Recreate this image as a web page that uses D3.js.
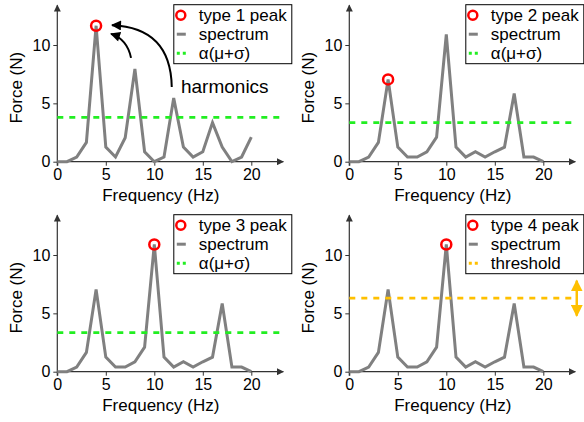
<!DOCTYPE html>
<html>
<head>
<meta charset="utf-8">
<script src="https://cdn.jsdelivr.net/npm/d3@7"></script>
<style>
  body { margin: 0; background: #fff; }
  text { font-family: "Liberation Sans", Arial, sans-serif; fill: #000; }
</style>
</head>
<body>
<div id="chart"></div>
<script>
// Chart data
const freq = [0, 1, 2, 3, 4, 5, 6, 7, 8, 9, 10, 11, 12, 13, 14, 15, 16, 17, 18, 19, 20];
const spectrumHarmonic = [0, 0, 0.4, 1.65, 11.65, 1.25, 0.4, 2.05, 7.95, 0.85, 0, 0.4, 5.45, 1.25, 0.4, 0.85, 3.35, 1.25, 0, 0.4, 2.1];
const spectrumMulti = [0, 0, 0.4, 1.65, 7.05, 1.25, 0.4, 0.4, 0.85, 2.1, 10.9, 1.25, 0.4, 0.85, 0.4, 0.85, 1.25, 5.85, 0.4, 0.4, 0];
const peakLabels = ["type 1 peak", "type 2 peak", "type 3 peak", "type 4 peak"];
const peakFreqs = [4, 4, 10, 10];
const thresholds = [3.8, 3.35, 3.35, 6.3];
const thresholdLabels = ["α(μ+σ)", "α(μ+σ)", "α(μ+σ)", "threshold"];
const xTicks = [0, 5, 10, 15, 20];
const yTicks = [0, 5, 10];

const width = 584, height = 422;
const panelLeft = [57.3, 349.3];
const panelBottom = [161.7, 371.7];
const green = "#22ee22", gold = "#ffc000", lineGray = "#808080", axisColor = "#333";

const svg = d3.select("#chart").append("svg")
    .attr("width", width)
    .attr("height", height);

// Arrowhead markers
const defs = svg.append("defs");
const addMarker = (id, color, w, h) => {
    defs.append("marker")
        .attr("id", id)
        .attr("viewBox", "0 -5 10 10")
        .attr("refX", 9)
        .attr("refY", 0)
        .attr("markerUnits", "userSpaceOnUse")
        .attr("markerWidth", w)
        .attr("markerHeight", h)
        .attr("orient", "auto-start-reverse")
        .append("path")
        .attr("d", "M0,-5L10,0L0,5Z")
        .attr("fill", color);
};
addMarker("axisArrow", axisColor, 8, 7);
addMarker("blackArrow", "#000", 11, 10);
addMarker("goldArrow", gold, 12, 12);

const x = d3.scaleLinear().domain([0, 20]).range([0, 194]);
const y = d3.scaleLinear().domain([0, 10]).range([0, -116.7]);
const xEnd = 23.3, yEnd = 13.4;

peakLabels.forEach((label, i) => {
    const col = i % 2, row = Math.floor(i / 2);
    const values = i === 0 ? spectrumHarmonic : spectrumMulti;
    const g = svg.append("g")
        .attr("transform", `translate(${panelLeft[col]},${panelBottom[row]})`);

    /* Axes */
    const xAxis = g.append("g")
        .call(d3.axisBottom(x).tickValues(xTicks).tickSize(4).tickPadding(3));
    const yAxis = g.append("g")
        .call(d3.axisLeft(y).tickValues(yTicks).tickSize(4).tickPadding(3));
    [xAxis, yAxis].forEach(ax => {
        ax.select(".domain").remove();
        ax.selectAll("line").attr("stroke", axisColor);
        ax.selectAll("text").style("font-size", "16px").attr("fill", "#000");
    });
    g.append("line")
        .attr("x1", x(0)).attr("x2", x(xEnd))
        .attr("y1", y(0)).attr("y2", y(0))
        .attr("stroke", axisColor).attr("stroke-width", 1.2)
        .attr("marker-end", "url(#axisArrow)");
    g.append("line")
        .attr("x1", x(0)).attr("x2", x(0))
        .attr("y1", y(0) + 4).attr("y2", y(yEnd))
        .attr("stroke", axisColor).attr("stroke-width", 1.2)
        .attr("marker-end", "url(#axisArrow)");

    // Axis labels
    g.append("text")
        .text("Frequency (Hz)")
        .attr("text-anchor", "middle")
        .attr("x", 103.5)
        .attr("y", 39.5)
        .style("font-size", "17px");
    g.append("text")
        .text("Force (N)")
        .attr("text-anchor", "middle")
        .attr("transform", "rotate(-90)")
        .attr("x", 74)
        .attr("y", -41)
        .attr("dy", "0.35em")
        .style("font-size", "17px");

    /* Spectrum */
    const line = d3.line()
        .x((d, j) => x(freq[j]))
        .y(d => y(d));
    g.append("path")
        .datum(values)
        .attr("d", line)
        .attr("fill", "none")
        .attr("stroke", lineGray)
        .attr("stroke-width", 3);

    /* Threshold */
    const thColor = i === 3 ? gold : green;
    g.append("line")
        .attr("x1", x(0)).attr("x2", x(xEnd))
        .attr("y1", y(thresholds[i])).attr("y2", y(thresholds[i]))
        .attr("stroke", thColor)
        .attr("stroke-width", 2.8)
        .attr("stroke-dasharray", "6,6");

    if (i === 3) {
        g.append("line")
            .attr("x1", x(23.45)).attr("x2", x(23.45))
            .attr("y1", y(thresholds[i] - 1.5)).attr("y2", y(thresholds[i] + 1.5))
            .attr("stroke", gold)
            .attr("stroke-width", 2.5)
            .attr("marker-start", "url(#goldArrow)")
            .attr("marker-end", "url(#goldArrow)");
    }

    /* Peak marker */
    const pk = freq.indexOf(peakFreqs[i]);
    g.append("circle")
        .attr("cx", x(freq[pk]))
        .attr("cy", y(values[pk]))
        .attr("r", 5)
        .attr("fill", "none")
        .attr("stroke", "#ff0000")
        .attr("stroke-width", 2.5);

    /* Harmonics annotation */
    if (i === 0) {
        g.append("text")
            .text("harmonics")
            .attr("x", x(12.75))
            .attr("y", y(5.9))
            .style("font-size", "19px");
        const arrows = [
            [[11.8, 6.4], [11.7, 11.5], [5.64, 11.7]],
            [[7.6, 8.9], [7.2, 10.5], [5.54, 10.95]]
        ];
        arrows.forEach(([s, c, e]) => {
            const p = d3.path();
            p.moveTo(x(s[0]), y(s[1]));
            p.quadraticCurveTo(x(c[0]), y(c[1]), x(e[0]), y(e[1]));
            g.append("path")
                .attr("d", p.toString())
                .attr("fill", "none")
                .attr("stroke", "#000")
                .attr("stroke-width", 2)
                .attr("marker-end", "url(#blackArrow)");
        });
    }

    /* Legend */
    const legend = g.append("g")
        .attr("transform", `translate(116.5,-157)`);
    legend.append("rect")
        .attr("width", 118)
        .attr("height", 59)
        .attr("fill", "#fff")
        .attr("stroke", "#000")
        .attr("stroke-width", 1);
    const rowsY = [10.5, 29.5, 48.5];
    legend.append("circle")
        .attr("cx", 7).attr("cy", rowsY[0]).attr("r", 4.5)
        .attr("fill", "none").attr("stroke", "#ff0000").attr("stroke-width", 2.5);
    legend.append("line")
        .attr("x1", 3).attr("x2", 12).attr("y1", rowsY[1]).attr("y2", rowsY[1])
        .attr("stroke", lineGray).attr("stroke-width", 3);
    legend.append("line")
        .attr("x1", 3).attr("x2", 12).attr("y1", rowsY[2]).attr("y2", rowsY[2])
        .attr("stroke", thColor).attr("stroke-width", 3)
        .attr("stroke-dasharray", "3,3");
    [label, "spectrum", thresholdLabels[i]].forEach((t, j) => {
        legend.append("text")
            .text(t)
            .attr("x", 25)
            .attr("y", rowsY[j])
            .attr("dy", "0.35em")
            .style("font-size", "17px");
    });
});
</script>
</body>
</html>
